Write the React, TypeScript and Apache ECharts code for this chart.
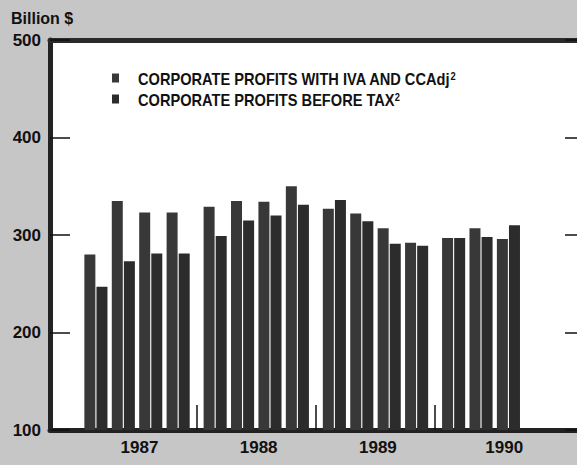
import React, { useEffect, useRef } from "react";
import * as echarts from "echarts";

// Quarterly periods (year, quarter)
const periods = [
  "1987Q1", "1987Q2", "1987Q3", "1987Q4",
  "1988Q1", "1988Q2", "1988Q3", "1988Q4",
  "1989Q1", "1989Q2", "1989Q3", "1989Q4",
  "1990Q1", "1990Q2", "1990Q3",
];
// Billion $
const profitsWithIvaCCAdj = [280, 335, 323, 323, 329, 335, 334, 350, 327, 322, 307, 292, 297, 307, 296];
const profitsBeforeTax = [247, 273, 281, 281, 299, 315, 320, 331, 336, 314, 291, 289, 297, 298, 310];

const yearLabels = [1987, 1988, 1989, 1990];
const yearSeparators = [1988, 1989, 1990];
const yTicks = [100, 200, 300, 400, 500];

const seriesNames = ["CORPORATE PROFITS WITH IVA AND CCAdj", "CORPORATE PROFITS BEFORE TAX"];
const seriesColors = ["#383838", "#2c2c2c"];

// layout helpers (position of each quarter inside its year span)
const QUARTER_STEP = 0.2299;
const xOf = (p: string) => {
  const year = parseInt(p.slice(0, 4), 10);
  const q = parseInt(p.slice(5), 10);
  return year + 0.5 + (q - 2.5) * QUARTER_STEP;
};
const labelPos = (y: number) => (y === 1990 ? y + 0.58 : y + 0.52);

const FONT = "'Liberation Sans', Arial, Helvetica, sans-serif";

export default function App() {
  const ref = useRef<HTMLDivElement>(null);
  useEffect(() => {
    const chart = echarts.init(ref.current!, null, { renderer: "svg" });

    const legendGraphics: any[] = [];
    seriesNames.forEach((name, i) => {
      const top = 73.5 + i * 21;
      legendGraphics.push({
        type: "rect",
        shape: { x: 112, y: top, width: 7, height: 9 },
        style: { fill: seriesColors[i] },
        z: 10,
      });
      legendGraphics.push({
        type: "text",
        x: 138,
        y: top - 3,
        scaleX: 0.885,
        z: 10,
        style: {
          text: `{t|${name}}{s|2}`,
          rich: {
            t: { font: `bold 16.5px ${FONT}`, lineHeight: 18, fill: "#111" },
            s: { font: `bold 10.5px ${FONT}`, lineHeight: 18, verticalAlign: "top", fill: "#111" },
          },
        },
      });
    });

    const option: any = {
      animation: false,
      backgroundColor: "#c6c6c6",
      textStyle: { fontFamily: FONT },
      grid: {
        left: 50,
        right: 0,
        top: 40,
        bottom: 35,
        show: true,
        backgroundColor: "#ffffff",
        borderWidth: 0,
      },
      graphic: [
        {
          type: "text",
          left: 11,
          top: 10,
          style: { text: "Billion $", font: `bold 16px ${FONT}`, fill: "#111" },
        },
        ...legendGraphics,
      ],
      xAxis: [
        {
          type: "value",
          min: 1986.77,
          max: 1991.19,
          position: "bottom",
          splitLine: { show: false },
          axisLine: { show: true, onZero: false, lineStyle: { color: "#222", width: 5 } },
          axisTick: {
            show: true,
            inside: true,
            length: 25,
            customValues: yearSeparators,
            lineStyle: { color: "#111", width: 1.5 },
          },
          axisLabel: {
            show: true,
            customValues: yearLabels.map(labelPos),
            formatter: (v: number) => String(Math.floor(v)),
            fontSize: 17,
            fontWeight: "bold",
            color: "#111",
            margin: 9,
            fontFamily: FONT,
          },
        },
        {
          type: "value",
          min: 1986.77,
          max: 1991.19,
          position: "top",
          splitLine: { show: false },
          axisLine: { show: true, onZero: false, lineStyle: { color: "#2a2a2a", width: 5 } },
          axisTick: { show: false },
          axisLabel: { show: false },
        },
      ],
      yAxis: [
        {
          type: "value",
          min: 100,
          max: 500,
          interval: 100,
          position: "left",
          splitLine: { show: false },
          axisLine: { show: true, lineStyle: { color: "#222", width: 5 } },
          axisTick: { show: true, inside: true, length: 20, customValues: yTicks, lineStyle: { color: "#111", width: 1.5 } },
          axisLabel: {
            fontSize: 17,
            fontWeight: "bold",
            color: "#111",
            margin: 9,
            fontFamily: FONT,
          },
        },
        {
          type: "value",
          min: 100,
          max: 500,
          interval: 100,
          position: "right",
          splitLine: { show: false },
          axisLine: { show: true, lineStyle: { color: "#999", width: 1, type: "dotted" } },
          axisTick: { show: true, inside: true, length: 12, lineStyle: { color: "#111", width: 1.5 } },
          axisLabel: { show: false },
        },
      ],
      series: [
        {
          name: seriesNames[0],
          type: "bar",
          xAxisIndex: 0,
          yAxisIndex: 0,
          barWidth: 11,
          barGap: "10%",
          itemStyle: { color: seriesColors[0] },
          data: periods.map((p, i) => [xOf(p), profitsWithIvaCCAdj[i]]),
        },
        {
          name: seriesNames[1],
          type: "bar",
          xAxisIndex: 0,
          yAxisIndex: 0,
          barWidth: 11,
          barGap: "10%",
          itemStyle: { color: seriesColors[1] },
          data: periods.map((p, i) => [xOf(p), profitsBeforeTax[i]]),
        },
      ],
    };
    chart.setOption(option);
    return () => chart.dispose();
  }, []);
  return (
    <div
      ref={ref}
      style={{ position: "absolute", left: 0, top: 0, width: 577, height: 465 }}
    />
  );
}
